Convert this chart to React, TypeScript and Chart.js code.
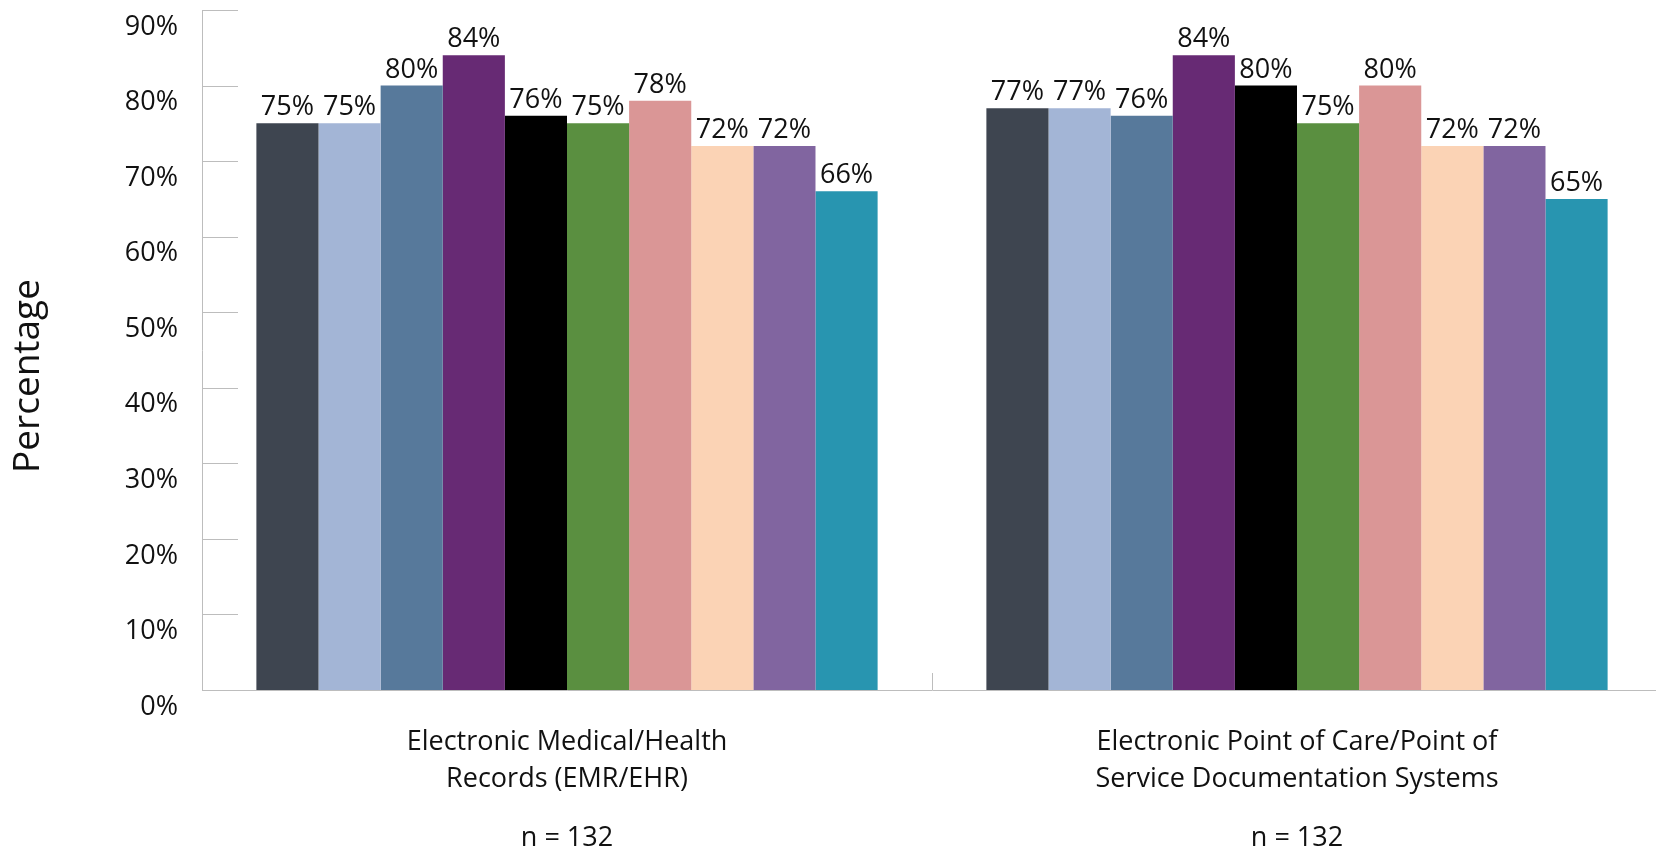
import React, { useEffect, useRef } from 'react';
import { Chart, registerables } from 'chart.js';

Chart.register(...registerables);

// ---- data ----
const categories: string[][] = [
  ['Electronic Medical/Health', 'Records (EMR/EHR)'],
  ['Electronic Point of Care/Point of', 'Service Documentation Systems'],
];
const sampleSizes: string[] = ['n = 132', 'n = 132'];

const series1: number[] = [75, 77];
const series2: number[] = [75, 77];
const series3: number[] = [80, 76];
const series4: number[] = [84, 84];
const series5: number[] = [76, 80];
const series6: number[] = [75, 75];
const series7: number[] = [78, 80];
const series8: number[] = [72, 72];
const series9: number[] = [72, 72];
const series10: number[] = [66, 65];

const seriesValues: number[][] = [
  series1, series2, series3, series4, series5,
  series6, series7, series8, series9, series10,
];
const seriesColors: string[] = [
  '#3E4550', '#A3B5D6', '#57799B', '#672A74', '#000000',
  '#5A8F40', '#DA9696', '#FBD3B5', '#8165A0', '#2895B0',
];

const yMin = 0;
const yMax = 90;
const yStep = 10;
const yTitle = 'Percentage';

// ---- styles ----
const FONT = "'Open Sans', sans-serif";
const TEXT = '#111111';
const AXIS = '#BDBDBD';

const innerTicksPlugin = {
  id: 'innerTicks',
  afterDraw(chart: any) {
    const { ctx, chartArea, scales } = chart;
    const y = scales.y;
    const x = scales.x;
    ctx.save();
    ctx.strokeStyle = AXIS;
    ctx.lineWidth = 1;
    ctx.beginPath();
    y.ticks.forEach((t: any) => {
      const py = Math.round(y.getPixelForValue(t.value)) + 0.5;
      ctx.moveTo(chartArea.left, py);
      ctx.lineTo(chartArea.left + 36, py);
    });
    const n = x.getLabels().length;
    const step = x.getPixelForValue(1) - x.getPixelForValue(0);
    for (let i = 0; i <= n; i++) {
      const px = Math.round(x.getPixelForValue(0) - step / 2 + i * step) + 0.5;
      ctx.moveTo(px, chartArea.bottom);
      ctx.lineTo(px, chartArea.bottom - 17);
    }
    ctx.stroke();
    ctx.restore();
  },
};

// y-axis title, placed slightly below the axis centre as in the original
const yTitlePlugin = {
  id: 'yTitle',
  afterDraw(chart: any) {
    const { ctx, chartArea } = chart;
    const cy = (chartArea.top + chartArea.bottom) / 2 + 26;
    ctx.save();
    ctx.translate(39, cy);
    ctx.rotate(-Math.PI / 2);
    ctx.font = `37px ${FONT}`;
    ctx.fillStyle = TEXT;
    ctx.textAlign = 'center';
    ctx.textBaseline = 'alphabetic';
    ctx.fillText(yTitle, 0, 0);
    ctx.restore();
  },
};

const valueLabelsPlugin = {
  id: 'valueLabels',
  afterDatasetsDraw(chart: any) {
    const { ctx } = chart;
    ctx.save();
    ctx.font = `27px ${FONT}`;
    ctx.fillStyle = TEXT;
    ctx.textAlign = 'center';
    ctx.textBaseline = 'alphabetic';
    chart.data.datasets.forEach((ds: any, i: number) => {
      const meta = chart.getDatasetMeta(i);
      meta.data.forEach((bar: any, j: number) => {
        ctx.fillText(`${ds.data[j]}%`, bar.x, bar.y - 8);
      });
    });
    ctx.restore();
  },
};

export default function App() {
  const canvasRef = useRef<HTMLCanvasElement | null>(null);

  useEffect(() => {
    if (!canvasRef.current) return;
    const chart = new Chart(canvasRef.current, {
      type: 'bar',
      data: {
        labels: categories,
        datasets: seriesValues.map((vals, i) => ({
          label: `Series ${i + 1}`,
          data: vals,
          backgroundColor: seriesColors[i],
          borderWidth: 0,
          barPercentage: 1,
          categoryPercentage: 0.851,
        })),
      },
      options: {
        responsive: false,
        devicePixelRatio: 1,
        animation: false,
        layout: { padding: { top: 10, left: 0, right: 0, bottom: 0 } },
        plugins: {
          legend: { display: false },
          tooltip: { enabled: false },
        },
        scales: {
          x: {
            type: 'category',
            position: 'bottom',
            weight: 0,
            offset: true,
            grid: { display: false, drawTicks: false },
            border: { display: true, color: AXIS, width: 1 },
            ticks: {
              color: TEXT,
              font: { family: FONT, size: 27, lineHeight: 1.4 },
              padding: 33,
              maxRotation: 0,
              autoSkip: false,
            },
            afterFit(s: any) { s.height = 109; },
          },
          x2: {
            type: 'category',
            position: 'bottom',
            weight: 1,
            offset: true,
            labels: sampleSizes,
            grid: { display: false, drawTicks: false },
            border: { display: false },
            ticks: {
              color: TEXT,
              font: { family: FONT, size: 27, lineHeight: 1.4 },
              padding: 20,
              maxRotation: 0,
              autoSkip: false,
            },
            afterFit(s: any) { s.height = 51; },
          },
          y: {
            type: 'linear',
            min: yMin,
            max: yMax,
            grid: { display: false, drawTicks: false },
            border: { display: true, color: AXIS, width: 1 },
            ticks: {
              stepSize: yStep,
              color: TEXT,
              font: { family: FONT, size: 27, lineHeight: 0.7 },
              padding: 24,
              labelOffset: 17,
              callback: (v: any) => `${v}%`,
            },
            afterFit(s: any) {
              s.width = 202;
              s.paddingTop = 0;
              s.paddingBottom = 0;
            },
          },
        },
      },
      plugins: [innerTicksPlugin, valueLabelsPlugin, yTitlePlugin],
    } as any);
    return () => chart.destroy();
  }, []);

  return (
    <div
      style={{
        position: 'fixed',
        left: 0,
        top: 0,
        width: 1656,
        height: 850,
        overflow: 'hidden',
        background: '#ffffff',
      }}
    >
      <canvas ref={canvasRef} width={1662} height={850} style={{ display: 'block' }} />
    </div>
  );
}
